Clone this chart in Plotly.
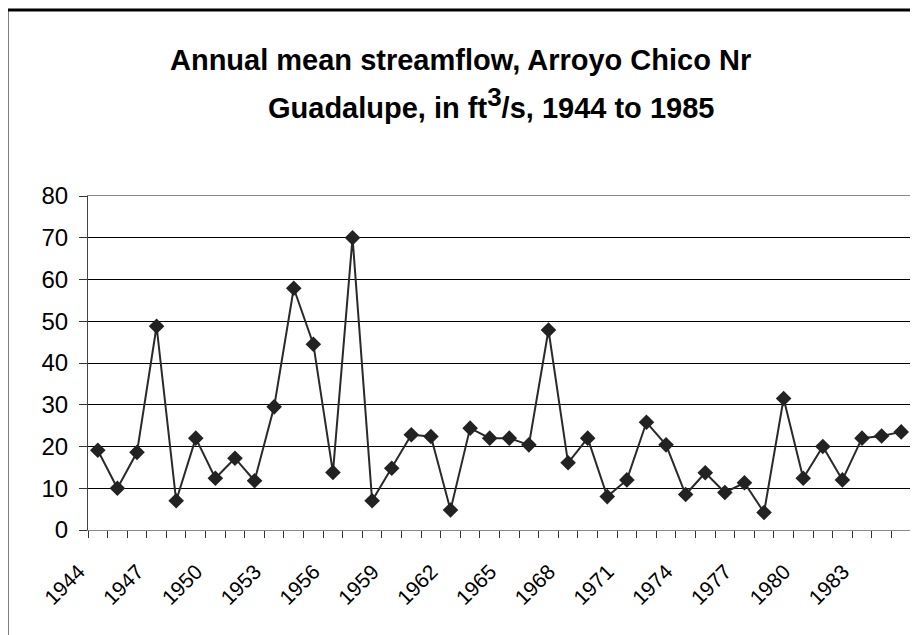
import plotly.graph_objects as go

years = list(range(1944, 1986))
flow = [19.1, 10.0, 18.6, 48.8, 7.0, 22.0, 12.4, 17.2, 11.8, 29.5,
        57.9, 44.5, 13.8, 70.0, 7.0, 14.8, 22.8, 22.4, 4.8, 24.4,
        22.0, 22.0, 20.4, 47.9, 16.1, 22.0, 8.0, 12.0, 25.8, 20.4,
        8.5, 13.7, 9.0, 11.3, 4.2, 31.5, 12.4, 20.0, 12.0, 22.0,
        22.5, 23.5]
tick_years = list(range(1944, 1986, 3))
y_ticks = [0, 10, 20, 30, 40, 50, 60, 70, 80]

# page body has an 8px default margin; work in window pixels and offset
OFF = 8
W, H = 918 - OFF, 635 - OFF
L, T = 88 - OFF, 196 - OFF
R = W - (911 - OFF)
B = H - (530 - OFF)
pw, ph = W - L - R, H - T - B

def px_x(x):
    return (x - OFF - L) / pw

def px_y(y):
    return (H - B - (y - OFF)) / ph

fig = go.Figure()
fig.add_trace(go.Scatter(
    x=years, y=flow, mode="lines+markers",
    line=dict(color="#2a2a2a", width=2),
    marker=dict(symbol="diamond", size=12, color="#222222"),
    showlegend=False, hoverinfo="x+y", cliponaxis=False))

font_family = "Liberation Sans, Arial, sans-serif"

fig.update_layout(
    width=W, height=H,
    margin=dict(l=L, r=R, t=T, b=B, autoexpand=False),
    paper_bgcolor="white", plot_bgcolor="white",
    font=dict(family=font_family, color="black"),
    xaxis=dict(
        range=[1943.5, 1985.5], automargin=False,
        tickmode="array", tickvals=tick_years,
        ticktext=[str(y) for y in tick_years],
        tickangle=-45, ticks="", ticklen=0,
        tickfont=dict(size=21, family=font_family),
        showgrid=False, zeroline=False,
        showline=True, linecolor="#888888", linewidth=1, mirror=True,
        minor=dict(tick0=1943.5, dtick=1, ticks="outside", ticklen=7,
                   tickcolor="#333333", tickwidth=1, showgrid=False),
        ticklabelstandoff=20, ticklabelshift=-19,
    ),
    yaxis=dict(
        range=[0, 80], tickmode="array", tickvals=y_ticks, automargin=False,
        ticks="outside", ticklen=8, tickcolor="#333333",
        tickfont=dict(size=24, family=font_family),
        ticklabelstandoff=6,
        showgrid=True, gridcolor="black", gridwidth=1,
        zeroline=False,
        showline=True, linecolor="#444444", linewidth=1,
    ),
    shapes=[
        dict(type="line", xref="paper", yref="paper", x0=1, x1=1, y0=0, y1=1,
             line=dict(color="#888888", width=2)),
        dict(type="rect", xref="paper", yref="paper",
             x0=px_x(7), x1=px_x(940), y0=px_y(650), y1=px_y(10),
             line=dict(color="black", width=3), layer="above"),
    ],
    annotations=[
        dict(text="<b>Annual mean streamflow, Arroyo Chico Nr</b>",
             xref="paper", yref="paper", x=px_x(460), y=px_y(60),
             xanchor="center", yanchor="middle", showarrow=False,
             font=dict(size=29, family=font_family, color="black")),
        dict(text="<b>Guadalupe, in ft<sup><span style=\"font-size:26px\">3</span></sup>/s, 1944 to 1985</b>",
             xref="paper", yref="paper", x=px_x(491), y=px_y(103),
             xanchor="center", yanchor="middle", showarrow=False,
             font=dict(size=29, family=font_family, color="black")),
    ],
)

fig.write_html("out.html")
